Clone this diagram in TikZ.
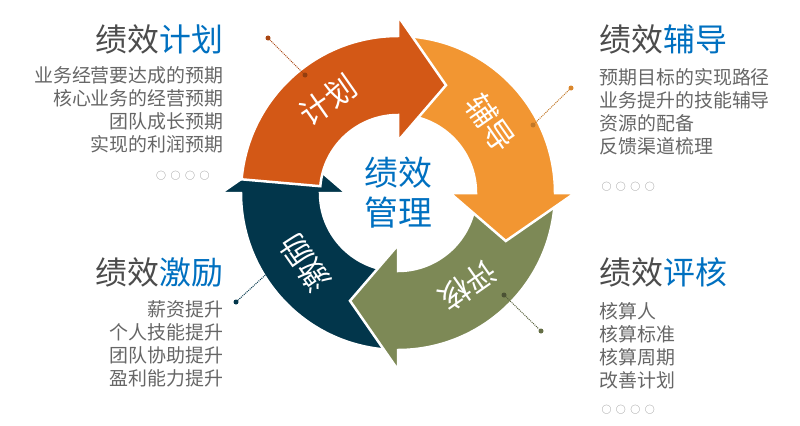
\documentclass[tikz,border=0pt]{standalone}
\usepackage{fontspec}
\setmainfont{Noto Sans CJK SC}
\begin{document}
\begin{tikzpicture}[x=1bp,y=1bp,
  arr/.style={draw=white,line width=2.5bp,line join=miter},
  lab/.style={text=white,font=\fontsize{31}{31}\selectfont},
  title/.style={font=\fontsize{32}{34}\selectfont,text=black!70},
  body/.style={font=\fontsize{19}{23}\selectfont,text=black!60},
  circ/.style={text=black!45,font=\fontsize{10}{10}\selectfont},
  lead/.style={densely dotted,line width=1bp},
  dotn/.style={circle,inner sep=0pt,minimum size=5bp}]
\definecolor{c1}{RGB}{211,88,22}
\definecolor{c2}{RGB}{242,150,50}
\definecolor{c3}{RGB}{125,137,86}
\definecolor{c4}{RGB}{2,54,75}
\definecolor{cb}{RGB}{0,112,192}
\useasboundingbox (0,0) rectangle (800,425);
\def\R{157}\def\r{78}
\begin{scope}[shift={(398,232)}]
\foreach \i/\c in {3/c4,2/c3,1/c2,0/c1}{
  \pgfmathsetmacro\aa{175-90*\i}
  \pgfmathsetmacro\ab{90-90*\i}
  \pgfmathsetmacro\ac{66-90*\i}
  \fill[\c,arr] (\aa:\R) arc[start angle=\aa,end angle=\ab,radius=\R] -- (\ab:\R+20) -- (\ac:118) -- (\ab:\r-26) -- (\ab:\r) arc[start angle=\ab,end angle=\aa,radius=\r] -- cycle;
}
\node[lab,rotate=35] (l1) at (127:116) {计划};
\node[lab,rotate=-55] (l2) at (37:116) {辅导};
\node[lab,rotate=-145] (l3) at (-53:116) {评核};
\node[lab,rotate=125] (l4) at (-143:116) {激励};
\node[text=cb,font=\fontsize{34}{40}\selectfont,align=center] (c) at (0,0) {绩效\\管理};
\end{scope}
% leaders
\node[dotn,fill=c1!80!black] (d1a) at (268,387) {};
\node[dotn,fill=c1!70!black] (d1b) at (305,350) {};
\draw[lead,c1!80!black] (d1a) -- (d1b);
\node[dotn,fill=c2!90!black] (d2a) at (571,337) {};
\node[dotn,fill=c2!80!black] (d2b) at (533,300) {};
\draw[lead,c2!80!black] (d2a) -- (d2b);
\node[dotn,fill=c3!60!black] (d3a) at (504,130) {};
\node[dotn,fill=c3!80!black] (d3b) at (541,94) {};
\draw[lead,c3!70!black] (d3a) -- (d3b);
\node[dotn,fill=c4] (d4a) at (236,123) {};
\node[dotn,fill=c4] (d4b) at (273,157) {};
\draw[lead,c4] (d4a) -- (d4b);
% text blocks
\node[title,anchor=east] (t1) at (227,386) {绩效\textcolor{cb}{计划}};
\node[body,anchor=north east,align=right] (b1) at (227,362) {业务经营要达成的预期\\核心业务的经营预期\\团队成长预期\\实现的利润预期};
\node[circ,anchor=east] (o1) at (213,249) {○\ \ ○\ \ ○\ \ ○};
\node[title,anchor=west] (t2) at (596,386) {绩效\textcolor{cb}{辅导}};
\node[body,anchor=north west,align=left] (b2) at (596,360) {预期目标的实现路径\\业务提升的技能辅导\\资源的配备\\反馈渠道梳理};
\node[circ,anchor=west] (o2) at (598,238) {○\ \ ○\ \ ○\ \ ○};
\node[title,anchor=east] (t3) at (227,153) {绩效\textcolor{cb}{激励}};
\node[body,anchor=north east,align=right] (b3) at (227,128) {薪资提升\\个人技能提升\\团队协助提升\\盈利能力提升};
\node[title,anchor=west] (t4) at (596,153) {绩效\textcolor{cb}{评核}};
\node[body,anchor=north west,align=left] (b4) at (596,126) {核算人\\核算标准\\核算周期\\改善计划};
\node[circ,anchor=west] (o4) at (598,15) {○\ \ ○\ \ ○\ \ ○};
\end{tikzpicture}
\end{document}
